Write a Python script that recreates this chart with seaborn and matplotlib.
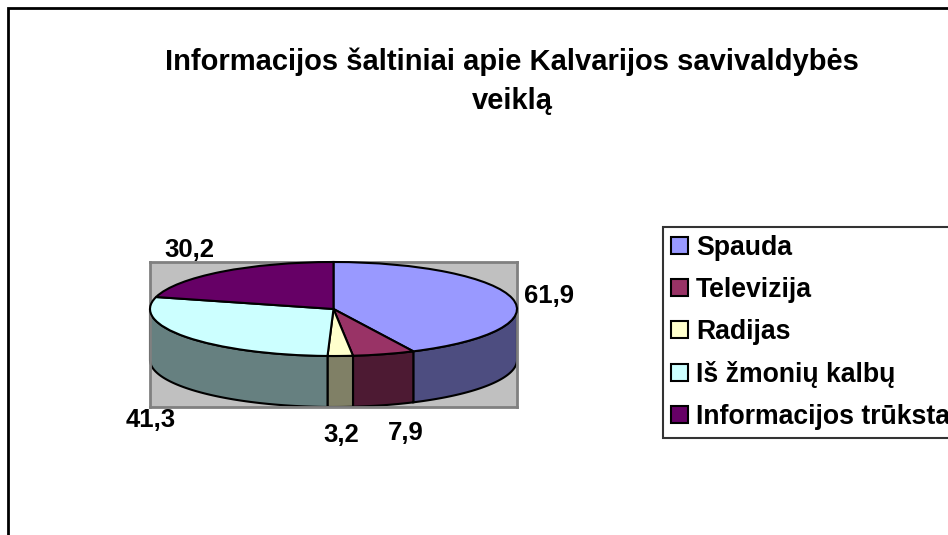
import numpy as np
import matplotlib.pyplot as plt
import seaborn as sns
from matplotlib.patches import Rectangle
from matplotlib.colors import to_rgb

# =========================
# Data
# =========================
categories = ["Spauda", "Televizija", "Radijas", "Iš žmonių kalbų", "Informacijos trūksta"]
values = [61.9, 7.9, 3.2, 41.3, 30.2]
value_labels = [f"{v:.1f}".replace(".", ",") for v in values]
top_colors = ["#9999FF", "#993366", "#FFFFCC", "#CCFFFF", "#660066"]
title = "Informacijos šaltiniai apie Kalvarijos savivaldybės\nveiklą"

sns.set_theme(style="white")
plt.rcParams["font.family"] = ["Liberation Sans", "DejaVu Sans"]
plt.rcParams["font.weight"] = "bold"
plt.rcParams["text.color"] = "black"

W, H = 948, 535
fig = plt.figure(figsize=(W / 100, H / 100), dpi=100, facecolor="white")

# outer chart frame (cut by the picture edge on right and bottom)
fig.patches.append(Rectangle((8 / W, -0.2), 1.2, (H - 8) / H + 0.2,
                             transform=fig.transFigure, fill=False,
                             edgecolor="black", linewidth=2))

fig.text(512 / W, 1 - 81 / H, title, ha="center", va="center",
         fontsize=21, fontweight="bold", linespacing=1.5)

# =========================
# 3D-looking pie
# =========================
depth = 51 / 47  # wall height in units of the short radius
ax = fig.add_axes([150 / W, 1 - 407 / H, 367 / W, 145 / H])
wedges, _ = ax.pie(values, colors=top_colors, startangle=90, counterclock=False,
                   wedgeprops=dict(edgecolor="black", linewidth=1.5))
ax.set_aspect("auto")
ax.set_xlim(-1, 1)
ax.set_ylim(-1 - depth, 1)
ax.set_frame_on(True)
ax.set_facecolor("#C0C0C0")
for s in ax.spines.values():
    s.set_color("#808080")
    s.set_linewidth(2)
ax.set_xticks([])
ax.set_yticks([])

for w, col in zip(wedges, top_colors):
    w.set_zorder(3)
    w.set_clip_on(False)
    t1, t2 = w.theta1, w.theta2
    side = tuple(c * 0.5 for c in to_rgb(col))
    for k in range(-2, 3):
        a = max(t1, 180 + 360 * k)
        b = min(t2, 360 + 360 * k)
        if b <= a:
            continue
        ang = np.radians(np.linspace(a, b, 100))
        xs = np.concatenate([np.cos(ang), np.cos(ang[::-1])])
        ys = np.concatenate([np.sin(ang), np.sin(ang[::-1]) - depth])
        ax.fill(xs, ys, facecolor=side, edgecolor="black", linewidth=1.5,
                zorder=2, clip_on=False)

# data labels
for w, lab in zip(wedges, value_labels):
    mid = np.radians((w.theta1 + w.theta2) / 2)
    c, s = np.cos(mid), np.sin(mid)
    y0 = s - depth if s < 0 else s
    if s > 0:
        dx, dy = 8.6 * c, 8.6 * s
    else:
        dx, dy = 9.2 * c, 11.5 * s * (2.1 if abs(c) > 0.5 else 1)
    ha = "left" if c > 0.15 else ("right" if c < -0.15 else "center")
    va = "bottom" if s > 0.3 else ("top" if s < -0.3 else "center")
    ax.annotate(lab, xy=(c, y0), xytext=(dx, dy),
                textcoords="offset points", ha=ha, va=va,
                fontsize=18.5, fontweight="bold", annotation_clip=False)

# =========================
# Legend
# =========================
leg = fig.legend(wedges, categories, loc="upper left",
                 bbox_to_anchor=(663 / W, 1 - 227 / H), borderaxespad=0,
                 fontsize=19.2, frameon=True, fancybox=False,
                 handlelength=0.64, handleheight=0.64, handletextpad=0.3,
                 borderpad=0.3, labelspacing=0.6)
leg.get_frame().set_edgecolor("black")
leg.get_frame().set_linewidth(1.5)
for t in leg.get_texts():
    t.set_fontweight("bold")

fig.savefig("out.png", dpi=100)
plt.close()
